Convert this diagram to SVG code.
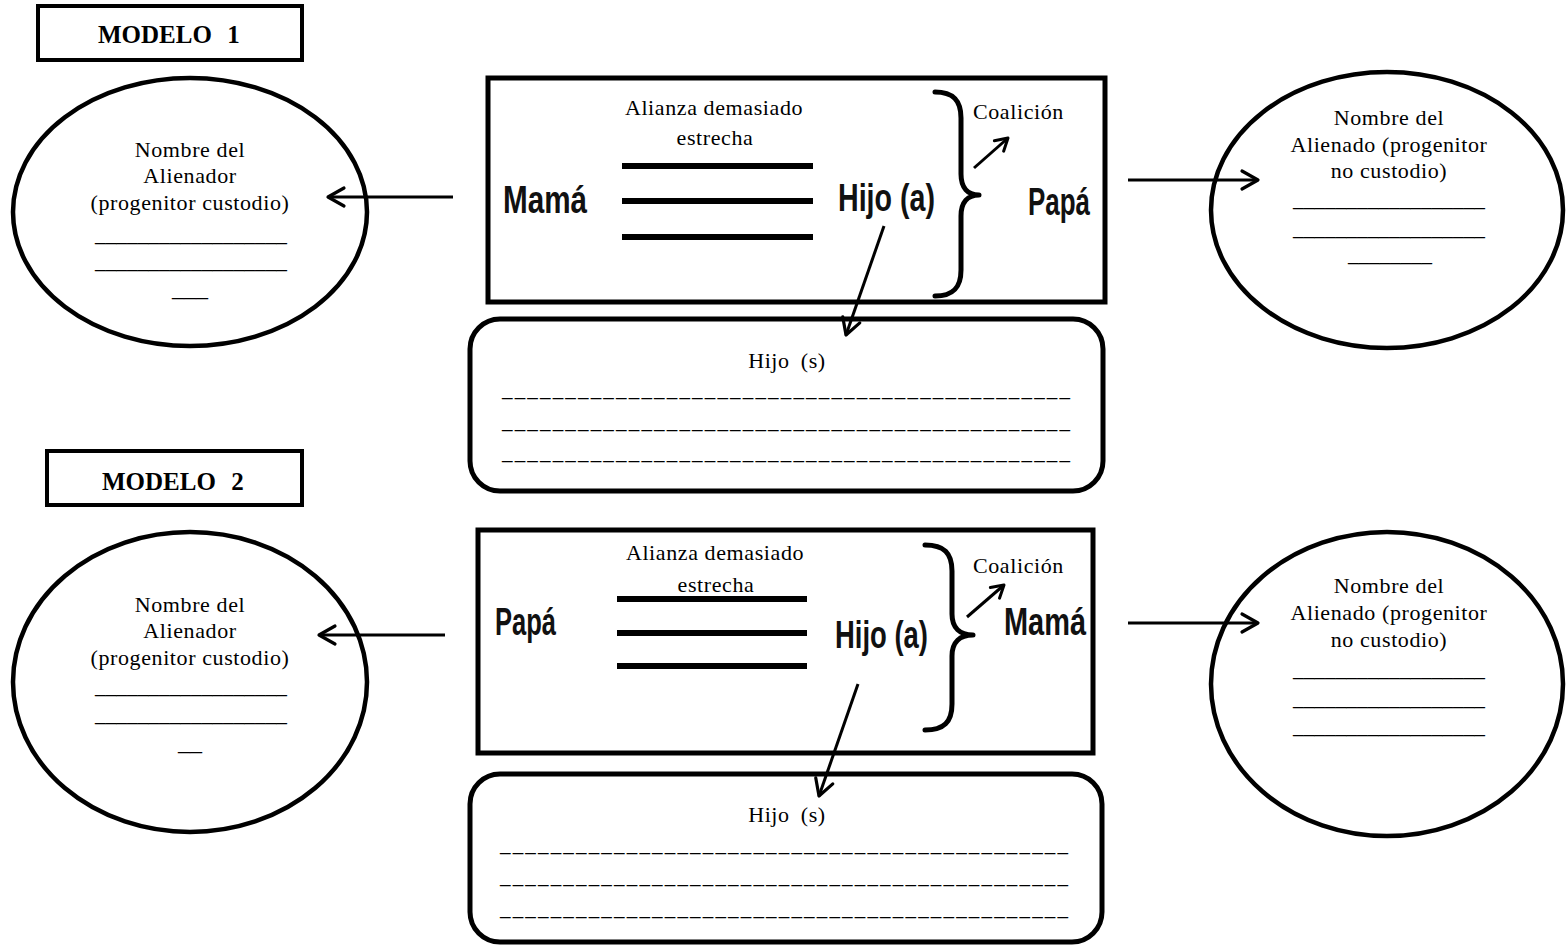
<svg xmlns="http://www.w3.org/2000/svg" width="1566" height="948" viewBox="0 0 1566 948">
<style>
.serif{font-family:"Liberation Serif","Times New Roman",serif;font-size:22px;letter-spacing:0.6px;fill:#000}
.mid{text-anchor:middle}
.title{font-family:"Liberation Serif","Times New Roman",serif;font-size:25px;font-weight:bold;word-spacing:9px;fill:#000}
.big{font-family:"Liberation Sans",Arial,sans-serif;font-size:38px;font-weight:bold;fill:#111}
.uline{font-family:"Liberation Serif","Times New Roman",serif;font-size:21px;fill:#000}
.frame{fill:#fff;stroke:#000;stroke-width:5}
.oval{fill:#fff;stroke:#000;stroke-width:4.5}
.bar{stroke:#000;stroke-width:6}
.brace{fill:none;stroke:#000;stroke-width:5;stroke-linecap:round;stroke-linejoin:round}
.conn{fill:none;stroke:#000;stroke-width:3}
</style>
<defs>
<marker id="head" markerUnits="userSpaceOnUse" viewBox="-20 -12 24 24" refX="0" refY="0" markerWidth="24" markerHeight="24" orient="auto">
<path d="M-16,-9 L0,0 L-16,9" fill="none" stroke="#000" stroke-width="3.2" stroke-linecap="round" stroke-linejoin="round"/>
</marker>
<marker id="small" markerUnits="userSpaceOnUse" viewBox="-16 -10 20 20" refX="0" refY="0" markerWidth="20" markerHeight="20" orient="auto">
<path d="M-12,-7 L0,0 L-12,7" fill="none" stroke="#000" stroke-width="3" stroke-linecap="round" stroke-linejoin="round"/>
</marker>
</defs>
<rect width="1566" height="948" fill="#fff"/>

<!-- MODELO 1 -->
<g id="modelo1-label">
<rect x="38" y="6" width="264" height="54" fill="#fff" stroke="#000" stroke-width="4"/>
<text class="title" x="98" y="43">MODELO 1</text>
</g>

<g id="alienador1">
<ellipse class="oval" cx="190" cy="212" rx="177" ry="134"/>
<text class="serif mid" x="190" y="157">Nombre del</text>
<text class="serif mid" x="190" y="183">Alienador</text>
<text class="serif mid" x="190" y="210">(progenitor custodio)</text>
<text class="uline" x="95" y="241" textLength="192" lengthAdjust="spacingAndGlyphs">__________________</text>
<text class="uline" x="95" y="268" textLength="192" lengthAdjust="spacingAndGlyphs">__________________</text>
<text class="uline" x="172" y="296" textLength="36" lengthAdjust="spacingAndGlyphs">___</text>
</g>

<g id="familia1">
<rect class="frame" x="488" y="78" width="617" height="224"/>
<text class="serif mid" x="714" y="115">Alianza demasiado</text>
<text class="serif mid" x="715" y="145">estrecha</text>
<line class="bar" x1="622" y1="166" x2="813" y2="166"/>
<line class="bar" x1="622" y1="201" x2="813" y2="201"/>
<line class="bar" x1="622" y1="237" x2="813" y2="237"/>
<text class="big" x="503" y="213" textLength="84" lengthAdjust="spacingAndGlyphs">Mamá</text>
<text class="big" x="838" y="211" textLength="97" lengthAdjust="spacingAndGlyphs">Hijo (a)</text>
<path class="brace" d="M935,92 C953,92 961,100 961,118 L961,174 C961,188 968,195 979,195 C968,195 961,202 961,216 L961,270 C961,288 953,296 935,296"/>
<text class="serif" x="973" y="119">Coalición</text>
<text class="big" x="1028" y="215" textLength="62" lengthAdjust="spacingAndGlyphs">Papá</text>
</g>

<g id="alienado1">
<ellipse class="oval" cx="1387" cy="210" rx="176" ry="138"/>
<text class="serif mid" x="1389" y="125">Nombre del</text>
<text class="serif mid" x="1389" y="152">Alienado (progenitor</text>
<text class="serif mid" x="1389" y="178">no custodio)</text>
<text class="uline" x="1293" y="206" textLength="192" lengthAdjust="spacingAndGlyphs">__________________</text>
<text class="uline" x="1293" y="235" textLength="192" lengthAdjust="spacingAndGlyphs">__________________</text>
<text class="uline" x="1348" y="261" textLength="84" lengthAdjust="spacingAndGlyphs">________</text>
</g>

<g id="hijos1">
<rect class="frame" x="470" y="319" width="633" height="172" rx="30" ry="30"/>
<text class="serif mid" x="787" y="368" style="word-spacing:5px">Hijo (s)</text>
<text class="uline" x="502" y="396" textLength="568" lengthAdjust="spacing">_____________________________________________</text>
<text class="uline" x="502" y="428" textLength="568" lengthAdjust="spacing">_____________________________________________</text>
<text class="uline" x="502" y="459" textLength="568" lengthAdjust="spacing">_____________________________________________</text>
</g>

<!-- MODELO 2 -->
<g id="modelo2-label">
<rect x="47" y="451" width="255" height="54" fill="#fff" stroke="#000" stroke-width="4"/>
<text class="title" x="102" y="490">MODELO 2</text>
</g>

<g id="alienador2">
<ellipse class="oval" cx="190" cy="682" rx="177" ry="150"/>
<text class="serif mid" x="190" y="612">Nombre del</text>
<text class="serif mid" x="190" y="638">Alienador</text>
<text class="serif mid" x="190" y="665">(progenitor custodio)</text>
<text class="uline" x="95" y="693" textLength="192" lengthAdjust="spacingAndGlyphs">__________________</text>
<text class="uline" x="95" y="721" textLength="192" lengthAdjust="spacingAndGlyphs">__________________</text>
<text class="uline" x="178" y="750" textLength="24" lengthAdjust="spacingAndGlyphs">__</text>
</g>

<g id="familia2">
<rect class="frame" x="478" y="530" width="615" height="223"/>
<text class="serif mid" x="715" y="560">Alianza demasiado</text>
<text class="serif mid" x="716" y="592">estrecha</text>
<line class="bar" x1="617" y1="599" x2="807" y2="599"/>
<line class="bar" x1="617" y1="633" x2="807" y2="633"/>
<line class="bar" x1="617" y1="666" x2="807" y2="666"/>
<text class="big" x="495" y="635" textLength="61" lengthAdjust="spacingAndGlyphs">Papá</text>
<text class="big" x="835" y="648" textLength="93" lengthAdjust="spacingAndGlyphs">Hijo (a)</text>
<path class="brace" d="M925,545 C944,545 952,553 952,571 L952,614 C952,628 960,635 973,635 C960,635 952,642 952,656 L952,704 C952,722 944,730 925,730"/>
<text class="serif" x="973" y="573">Coalición</text>
<text class="big" x="1004" y="635" textLength="82" lengthAdjust="spacingAndGlyphs">Mamá</text>
</g>

<g id="alienado2">
<ellipse class="oval" cx="1387" cy="684" rx="176" ry="152"/>
<text class="serif mid" x="1389" y="593">Nombre del</text>
<text class="serif mid" x="1389" y="620">Alienado (progenitor</text>
<text class="serif mid" x="1389" y="647">no custodio)</text>
<text class="uline" x="1293" y="676" textLength="192" lengthAdjust="spacingAndGlyphs">__________________</text>
<text class="uline" x="1293" y="705" textLength="192" lengthAdjust="spacingAndGlyphs">__________________</text>
<text class="uline" x="1293" y="733" textLength="192" lengthAdjust="spacingAndGlyphs">__________________</text>
</g>

<g id="hijos2">
<rect class="frame" x="470" y="774" width="632" height="168" rx="30" ry="30"/>
<text class="serif mid" x="787" y="822" style="word-spacing:5px">Hijo (s)</text>
<text class="uline" x="500" y="851" textLength="568" lengthAdjust="spacing">_____________________________________________</text>
<text class="uline" x="500" y="883" textLength="568" lengthAdjust="spacing">_____________________________________________</text>
<text class="uline" x="500" y="915" textLength="568" lengthAdjust="spacing">_____________________________________________</text>
</g>

<g id="connectors">
<line class="conn" x1="453" y1="197" x2="328" y2="197" marker-end="url(#head)"/>
<line class="conn" x1="1128" y1="180" x2="1258" y2="180" marker-end="url(#head)"/>
<line class="conn" x1="884" y1="226" x2="846" y2="335" marker-end="url(#head)"/>
<line class="conn" x1="974" y1="168" x2="1008" y2="138" marker-end="url(#small)"/>
<line class="conn" x1="445" y1="635" x2="319" y2="635" marker-end="url(#head)"/>
<line class="conn" x1="1128" y1="623" x2="1258" y2="623" marker-end="url(#head)"/>
<line class="conn" x1="858" y1="684" x2="819" y2="796" marker-end="url(#head)"/>
<line class="conn" x1="967" y1="617" x2="1004" y2="585" marker-end="url(#small)"/>
</g>
</svg>
